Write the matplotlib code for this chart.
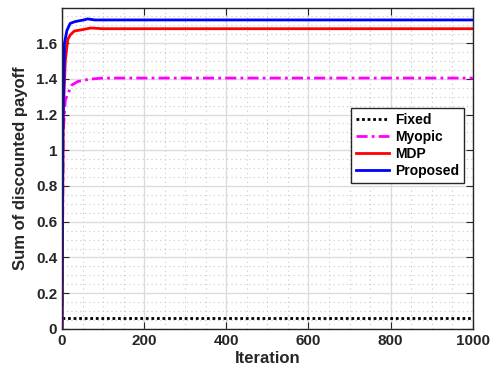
import matplotlib.pyplot as plt
from matplotlib.ticker import MultipleLocator

plt.rcParams['font.family'] = ['Liberation Sans', 'DejaVu Sans']
plt.rcParams['font.weight'] = 'bold'

# values
it_fixed = [1, 1000]
val_fixed = [0.062, 0.062]

it_myopic = [0, 3, 8, 15, 24, 39, 68, 100, 1000]
val_myopic = [0.0, 1.1, 1.28, 1.32, 1.365, 1.385, 1.398, 1.404, 1.404]

it_mdp = [0, 3, 8, 14, 20, 30, 50, 70, 100, 1000]
val_mdp = [0.0, 1.2, 1.5, 1.62, 1.645, 1.667, 1.675, 1.684, 1.68, 1.68]

it_prop = [0, 2, 6, 12, 20, 32, 55, 62, 80, 1000]
val_prop = [0.0, 1.1, 1.6, 1.67, 1.71, 1.72, 1.73, 1.735, 1.729, 1.729]

fig = plt.figure(figsize=(4.94, 3.73), dpi=100)
ax = fig.add_axes([0.1255, 0.118, 0.8315, 0.8606])

ax.plot(it_fixed, val_fixed, color='black', linestyle=(0, (1, 1)), linewidth=2, label='Fixed')
ax.plot(it_myopic, val_myopic, color='magenta', linestyle=(0, (4, 1.5, 1, 1.5)), linewidth=2, label='Myopic')
ax.plot(it_mdp, val_mdp, color='red', linewidth=2, label='MDP')
ax.plot(it_prop, val_prop, color='blue', linewidth=2, label='Proposed')

ax.set_xlim(0, 1000)
ax.set_ylim(0, 1.796)
ax.xaxis.set_major_locator(MultipleLocator(200))
ax.xaxis.set_minor_locator(MultipleLocator(50))
ax.yaxis.set_major_locator(MultipleLocator(0.2))
ax.yaxis.set_minor_locator(MultipleLocator(0.05))
ax.set_yticks([0, 0.2, 0.4, 0.6, 0.8, 1, 1.2, 1.4, 1.6])
ax.set_yticklabels(['0', '0.2', '0.4', '0.6', '0.8', '1', '1.2', '1.4', '1.6'])

ax.grid(True, which='major', color='#dcdcdc', linewidth=1)
ax.grid(True, which='minor', color='#c8c8c8', linestyle=(0, (1, 3)), linewidth=0.8)
ax.set_axisbelow(True)

ax.tick_params(which='major', direction='in', top=True, right=True, length=5,
               labelsize=11, colors='#262626')
ax.tick_params(which='minor', length=0)
for lbl in ax.get_xticklabels() + ax.get_yticklabels():
    lbl.set_fontweight('bold')
for s in ax.spines.values():
    s.set_color('#262626')
    s.set_linewidth(1)

ax.set_xlabel('Iteration', fontsize=12, fontweight='bold', color='#262626', labelpad=2)
ax.set_ylabel('Sum of discounted payoff', fontsize=12, fontweight='bold', color='#262626', labelpad=6)

leg = ax.legend(loc='upper right', bbox_to_anchor=(0.978, 0.688), borderaxespad=0, fontsize=10,
                fancybox=False, edgecolor='#262626', framealpha=1,
                handlelength=2.4, handletextpad=0.4, borderpad=0.35, labelspacing=0.22)
leg.get_frame().set_linewidth(1)
for t in leg.get_texts():
    t.set_fontweight('bold')

plt.savefig('out.png', dpi=100)
plt.close()
